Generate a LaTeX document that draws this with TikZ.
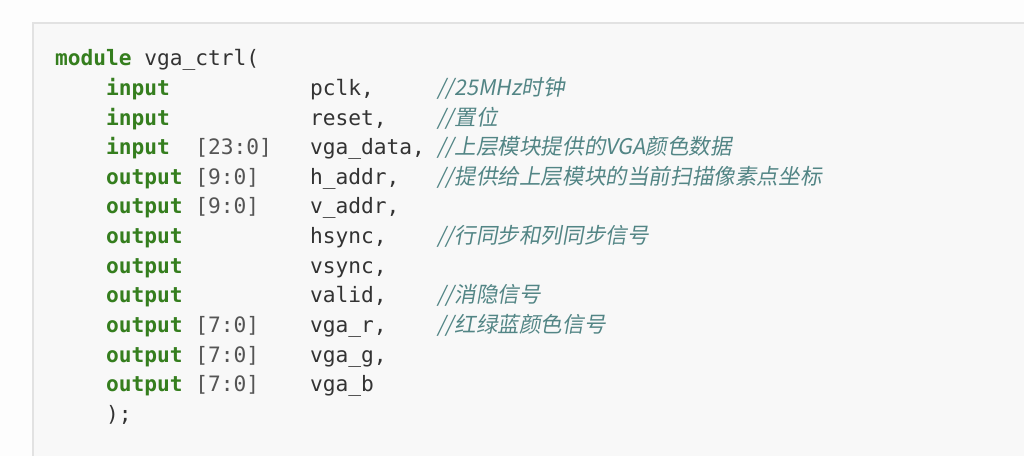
\documentclass[tikz,border=0pt]{standalone}
\usepackage{fontspec}
\newfontfamily\codefont{DejaVu Sans Mono}
\newfontfamily\cmtfont[FakeSlant=0.18]{Noto Sans CJK SC}
\definecolor{pagebg}{HTML}{FDFDFD}
\definecolor{boxbg}{HTML}{F8F8F8}
\definecolor{boxline}{HTML}{E2E2E2}
\definecolor{kwgreen}{HTML}{357E1E}
\definecolor{idtext}{HTML}{333333}
\definecolor{rangegray}{HTML}{555555}
\definecolor{cmtteal}{HTML}{528585}
\begin{document}
\begin{tikzpicture}[x=0.75pt,y=-0.75pt,
  tok/.style={anchor=base west,inner sep=0pt,outer sep=0pt,
    font=\codefont\fontsize{15.9}{19}\selectfont},
  kw/.style={tok,text=kwgreen,font=\codefont\bfseries\fontsize{15.9}{19}\selectfont},
  idt/.style={tok,text=idtext},
  rng/.style={tok,text=rangegray},
  cmt/.style={anchor=base west,inner sep=0pt,outer sep=0pt,text=cmtteal,
    font=\cmtfont\fontsize{16.2}{19}\selectfont}]
\useasboundingbox (0,0) rectangle (1024,456);
\fill[pagebg] (0,0) rectangle (1024,456);
\path[fill=boxbg,draw=boxline,line width=1.5] (33,23) rectangle (1040,470);
% columns
\def\cA{55}
\def\cK{106}
\def\cR{195.25}
\def\cN{310}
\def\cC{437.5}
% line 1
\node[kw]  (m0) at (\cA,66) {module};
\node[idt] (m1) at (144.25,66) {vga\_ctrl(};
% ports
\node[kw]  (k1) at (\cK,95.6) {input};
\node[idt] (n1) at (\cN,95.6) {pclk,};
\node[cmt] (c1) at (\cC,95.6) {//25MHz时钟};
\node[kw]  (k2) at (\cK,125.2) {input};
\node[idt] (n2) at (\cN,125.2) {reset,};
\node[cmt] (c2) at (\cC,125.2) {//置位};
\node[kw]  (k3) at (\cK,154.8) {input};
\node[rng] (r3) at (\cR,154.8) {[23:0]};
\node[idt] (n3) at (\cN,154.8) {vga\_data,};
\node[cmt] (c3) at (\cC,154.8) {//上层模块提供的VGA颜色数据};
\node[kw]  (k4) at (\cK,184.4) {output};
\node[rng] (r4) at (\cR,184.4) {[9:0]};
\node[idt] (n4) at (\cN,184.4) {h\_addr,};
\node[cmt] (c4) at (\cC,184.4) {//提供给上层模块的当前扫描像素点坐标};
\node[kw]  (k5) at (\cK,214) {output};
\node[rng] (r5) at (\cR,214) {[9:0]};
\node[idt] (n5) at (\cN,214) {v\_addr,};
\node[kw]  (k6) at (\cK,243.6) {output};
\node[idt] (n6) at (\cN,243.6) {hsync,};
\node[cmt] (c6) at (\cC,243.6) {//行同步和列同步信号};
\node[kw]  (k7) at (\cK,273.2) {output};
\node[idt] (n7) at (\cN,273.2) {vsync,};
\node[kw]  (k8) at (\cK,302.8) {output};
\node[idt] (n8) at (\cN,302.8) {valid,};
\node[cmt] (c8) at (\cC,302.8) {//消隐信号};
\node[kw]  (k9) at (\cK,332.4) {output};
\node[rng] (r9) at (\cR,332.4) {[7:0]};
\node[idt] (n9) at (\cN,332.4) {vga\_r,};
\node[cmt] (c9) at (\cC,332.4) {//红绿蓝颜色信号};
\node[kw]  (k10) at (\cK,362) {output};
\node[rng] (r10) at (\cR,362) {[7:0]};
\node[idt] (n10) at (\cN,362) {vga\_g,};
\node[kw]  (k11) at (\cK,391.6) {output};
\node[rng] (r11) at (\cR,391.6) {[7:0]};
\node[idt] (n11) at (\cN,391.6) {vga\_b};
\node[idt] (end) at (\cK,421.2) {);};
\end{tikzpicture}
\end{document}
